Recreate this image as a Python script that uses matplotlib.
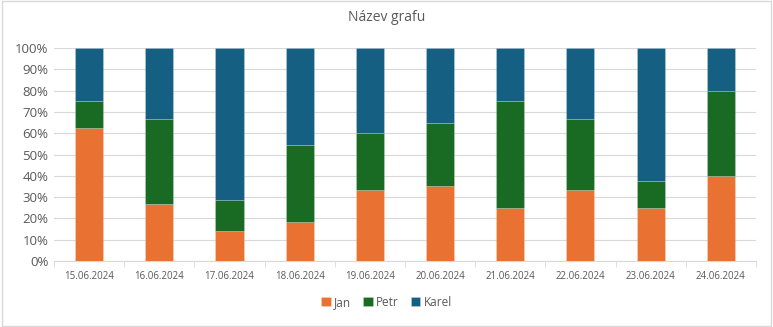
import numpy as np
import matplotlib.pyplot as plt
from matplotlib.patches import Rectangle
from matplotlib.ticker import PercentFormatter

plt.rcParams['font.family'] = ['Open Sans', 'DejaVu Sans']

dates = ["15.06.2024", "16.06.2024", "17.06.2024", "18.06.2024", "19.06.2024",
         "20.06.2024", "21.06.2024", "22.06.2024", "23.06.2024", "24.06.2024"]
jan = [5, 4, 1, 2, 5, 6, 1, 1, 2, 2]
petr = [1, 6, 1, 4, 4, 5, 2, 1, 1, 2]
karel = [2, 5, 5, 5, 6, 6, 1, 1, 5, 1]

names = ["Jan", "Petr", "Karel"]
colors = ["#E97132", "#196B24", "#156082"]

data = np.array([jan, petr, karel], dtype=float)
shares = data / data.sum(axis=0) * 100

fig = plt.figure(figsize=(7.73, 3.27), dpi=100)
fig.patches.append(Rectangle((0.002, 0.003), 0.996, 0.994, transform=fig.transFigure,
                             fill=False, edgecolor="#D9D9D9", linewidth=1))
ax = fig.add_axes([0.0699, 0.2018, 0.908, 0.6514])

x = np.arange(len(dates))
bottom = np.zeros(len(dates))
for name, vals, c in zip(names, shares, colors):
    ax.bar(x, vals, 0.4, bottom=bottom, color=c, label=name,
           edgecolor=(1, 1, 1, 0.35), linewidth=0.4, zorder=3)
    bottom += vals

ax.set_xlim(-0.5, len(dates) - 0.5)
ax.set_ylim(0, 100)
ax.set_yticks(np.arange(0, 101, 10))
ax.yaxis.set_major_formatter(PercentFormatter(decimals=0))
ax.grid(axis="y", color="#D9D9D9", linewidth=0.8, zorder=0)
for s in ["top", "right", "left"]:
    ax.spines[s].set_visible(False)
ax.spines["bottom"].set_color("#D9D9D9")
ax.tick_params(axis="y", length=0, labelsize=9.5, labelcolor="#595959", pad=4)
ax.set_xticks(x)
ax.set_xticklabels(dates, fontsize=7, color="#595959")
ax.set_xticks(np.arange(-0.5, len(dates)), minor=True)
ax.tick_params(axis="x", which="major", length=0, pad=7)
ax.tick_params(axis="x", which="minor", length=4, color="#D9D9D9")

fig.text(0.5, 0.945, "Název grafu", ha="center", va="center", fontsize=10, color="#595959")
fig.legend(loc="center", bbox_to_anchor=(0.5, 0.075), ncol=3, frameon=False,
           fontsize=8.5, handlelength=0.8, handleheight=0.8, handletextpad=0.3,
           columnspacing=1.0, labelcolor="#595959")

fig.savefig("out.png", dpi=100)
